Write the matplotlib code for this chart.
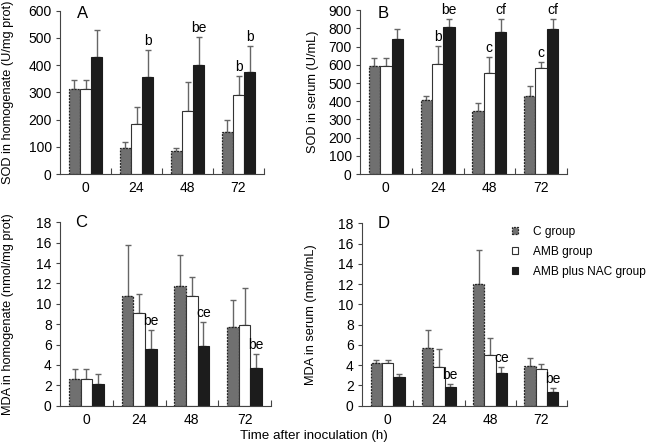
import matplotlib
matplotlib.use("Agg")
import matplotlib.pyplot as plt
import numpy as np

plt.rcParams['font.family'] = ['Liberation Sans', 'DejaVu Sans']
plt.rcParams['font.size'] = 10

# time points and groups
times = ['0', '24', '48', '72']
groups = ['C group', 'AMB group', 'AMB plus NAC group']

# A: SOD in homogenate (mean, SD)
sod_hom_c = [312, 95, 86, 153]
sod_hom_c_sd = [32, 24, 11, 44]
sod_hom_amb = [312, 182, 232, 290]
sod_hom_amb_sd = [32, 65, 105, 71]
sod_hom_nac = [429, 355, 402, 373]
sod_hom_nac_sd = [101, 101, 100, 98]

# B: SOD in serum
sod_ser_c = [594, 408, 347, 428]
sod_ser_c_sd = [46, 22, 41, 56]
sod_ser_amb = [594, 607, 556, 583]
sod_ser_amb_sd = [46, 99, 86, 35]
sod_ser_nac = [742, 806, 779, 799]
sod_ser_nac_sd = [53, 44, 71, 51]

# C: MDA in homogenate
mda_hom_c = [2.6, 10.8, 11.75, 7.7]
mda_hom_c_sd = [1.0, 5.0, 3.0, 2.7]
mda_hom_amb = [2.6, 9.1, 10.8, 7.9]
mda_hom_amb_sd = [1.0, 1.85, 1.8, 3.7]
mda_hom_nac = [2.15, 5.6, 5.9, 3.7]
mda_hom_nac_sd = [1.0, 1.85, 2.3, 1.35]

# D: MDA in serum
mda_ser_c = [4.2, 5.7, 12.05, 3.9]
mda_ser_c_sd = [0.3, 1.8, 3.35, 0.85]
mda_ser_amb = [4.2, 3.85, 5.05, 3.6]
mda_ser_amb_sd = [0.3, 1.7, 1.6, 0.55]
mda_ser_nac = [2.8, 1.8, 3.25, 1.4]
mda_ser_nac_sd = [0.3, 0.35, 0.6, 0.3]

# significance letters: (time index, group index, text)
sig_a = [(1, 2, 'b'), (2, 2, 'be'), (3, 1, 'b'), (3, 2, 'b')]
sig_b = [(1, 1, 'b'), (1, 2, 'be'), (2, 1, 'c'), (2, 2, 'cf'), (3, 1, 'c'), (3, 2, 'cf')]
sig_c = [(1, 2, 'be'), (2, 2, 'ce'), (3, 2, 'be')]
sig_d = [(1, 2, 'be'), (2, 2, 'ce'), (3, 2, 'be')]

W, H = 650, 448
fig = plt.figure(figsize=(6.5, 4.48), dpi=100)


def px_axes(x0, x1, ytop, ybot):
    return fig.add_axes([x0 / W, 1 - ybot / H, (x1 - x0) / W, (ybot - ytop) / H])


styles = [
    dict(color='#707070', edgecolor='#222222', linestyle=(0, (1.5, 1)), linewidth=0.9),
    dict(color='white', edgecolor='#333333', linewidth=0.8),
    dict(color='#1c1c1c', edgecolor='#1c1c1c', linewidth=0.8),
]


def panel(ax, series, sds, sigs, ymax, ystep, ylabel, letter, lx, ly, labx):
    x = np.arange(len(times))
    w = 0.22
    for i in range(3):
        pos = x + (i - 1) * w
        ax.bar(pos, series[i], w, **styles[i], zorder=2)
        ax.errorbar(pos, series[i], yerr=[np.zeros(len(times)), sds[i]], fmt='none',
                    ecolor='#666666', elinewidth=1, capsize=2.5, capthick=1, zorder=1)
    for t, g, s in sigs:
        top = series[g][t] + sds[g][t]
        ax.annotate(s, (x[t] + (g - 1) * w, top), xytext=(0, 1.5), textcoords='offset points',
                    ha='center', va='bottom', fontsize=10)
    ax.set_xlim(-0.5, 3.5)
    ax.set_ylim(0, ymax)
    ax.set_yticks(np.arange(0, ymax + ystep / 2, ystep))
    ax.set_xticks(x)
    ax.set_xticklabels(times)
    ax.set_xticks([0.5, 1.5, 2.5, 3.5], minor=True)
    ax.tick_params(axis='x', which='major', length=0, pad=5, labelsize=10)
    ax.tick_params(axis='x', which='minor', direction='in', length=4, width=0.8, color='#444444')
    ax.tick_params(axis='y', direction='out', length=3, width=0.8, pad=3, labelsize=10, color='#444444')
    for sp in ['top', 'right']:
        ax.spines[sp].set_visible(False)
    for sp in ['left', 'bottom']:
        ax.spines[sp].set_color('#444444')
        ax.spines[sp].set_linewidth(0.8)
    ax.set_ylabel(ylabel, fontsize=9.2)
    ax.yaxis.set_label_coords(labx, 0.5)
    ax.text(lx, ly, letter, transform=ax.transAxes, fontsize=12, ha='left', va='center')


ax_a = px_axes(60, 264, 10.7, 174)
panel(ax_a, [sod_hom_c, sod_hom_amb, sod_hom_nac], [sod_hom_c_sd, sod_hom_amb_sd, sod_hom_nac_sd],
      sig_a, 600, 100, 'SOD in homogenate (U/mg prot)', 'A', 0.083, 0.98, (14.5 - 60) / 204)

ax_b = px_axes(360, 567, 10.3, 174)
panel(ax_b, [sod_ser_c, sod_ser_amb, sod_ser_nac], [sod_ser_c_sd, sod_ser_amb_sd, sod_ser_nac_sd],
      sig_b, 900, 100, 'SOD in serum (U/mL)', 'B', 0.087, 0.98, (319 - 360) / 207)

ax_c = px_axes(60, 271, 222.3, 405.7)
panel(ax_c, [mda_hom_c, mda_hom_amb, mda_hom_nac], [mda_hom_c_sd, mda_hom_amb_sd, mda_hom_nac_sd],
      sig_c, 18, 2, 'MDA in homogenate (nmol/mg prot)', 'C', 0.071, 1.0, (14.5 - 60) / 211)

ax_d = px_axes(362, 567, 223.3, 405.7)
panel(ax_d, [mda_ser_c, mda_ser_amb, mda_ser_nac], [mda_ser_c_sd, mda_ser_amb_sd, mda_ser_nac_sd],
      sig_d, 18, 2, 'MDA in serum (nmol/mL)', 'D', 0.078, 1.0, (317 - 362) / 205)

handles = [plt.Rectangle((0, 0), 1, 1, facecolor=s['color'], edgecolor=s['edgecolor'],
                         linestyle=s.get('linestyle', '-'), linewidth=s['linewidth']) for s in styles]
fig.legend(handles, groups, loc='upper left', bbox_to_anchor=(511.5 / W, 1 - 225.5 / H), frameon=False,
           fontsize=8.6, handlelength=0.55, handleheight=0.55, handletextpad=1.25, labelspacing=0.68,
           borderpad=0, borderaxespad=0)

fig.text(314 / W, 1 - 436 / H, 'Time after inoculation (h)', ha='center', va='center', fontsize=9.6)

fig.savefig('out.png', dpi=100)
